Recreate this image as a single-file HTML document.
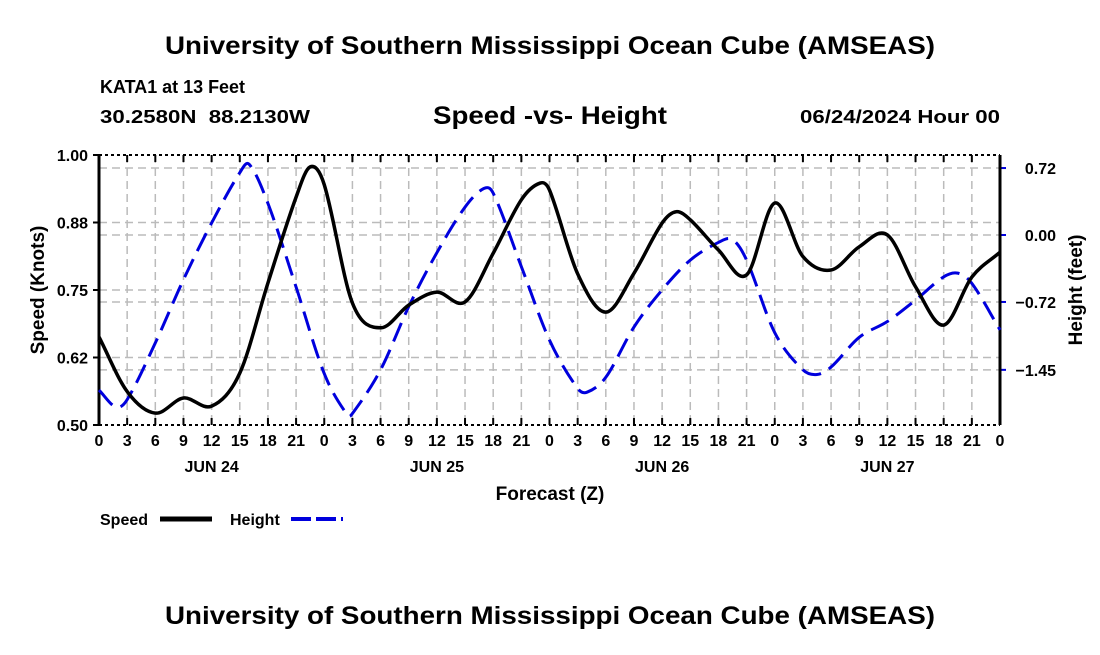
<!DOCTYPE html>
<html><head><meta charset="utf-8"><style>
body{margin:0;background:#fff;width:1100px;height:650px;overflow:hidden}
svg text{font-family:"Liberation Sans",sans-serif;font-weight:bold;fill:#000}
</style></head><body>
<svg id="chart" width="1100" height="650" xmlns="http://www.w3.org/2000/svg">
<text x="165" y="54" font-size="25" textLength="770" lengthAdjust="spacingAndGlyphs">University of Southern Mississippi Ocean Cube (AMSEAS)</text>
<text x="100" y="93" font-size="18" textLength="145" lengthAdjust="spacingAndGlyphs">KATA1 at 13 Feet</text>
<text x="100" y="123" font-size="18" xml:space="preserve" textLength="210" lengthAdjust="spacingAndGlyphs">30.2580N  88.2130W</text>
<text x="433" y="124" font-size="25" textLength="234" lengthAdjust="spacingAndGlyphs">Speed -vs- Height</text>
<text x="800" y="123" font-size="18" textLength="200" lengthAdjust="spacingAndGlyphs">06/24/2024 Hour 00</text>
<g id="grid"></g>
<g id="axes"></g>
<g id="series"></g>
<text x="0" y="0" font-size="19" text-anchor="middle" transform="translate(44,290) rotate(-90)">Speed (Knots)</text>
<text x="0" y="0" font-size="19" text-anchor="middle" transform="translate(1082,290) rotate(-90)">Height (feet)</text>
<text x="550" y="500" font-size="19" text-anchor="middle">Forecast (Z)</text>
<g>
<text x="100" y="525" font-size="16">Speed</text>
<line x1="160" y1="519" x2="212" y2="519" stroke="#000" stroke-width="5"/>
<text x="230" y="525" font-size="16">Height</text>
<line x1="291" y1="519" x2="343" y2="519" stroke="#0000dd" stroke-width="4" stroke-dasharray="20,5"/>
</g>
<text x="165" y="624" font-size="25" textLength="770" lengthAdjust="spacingAndGlyphs">University of Southern Mississippi Ocean Cube (AMSEAS)</text>
</svg>
<script>
const speedHours=[0,3,6,9,12,15,18,21,22.5,24,27,30,33,36,39,42,45,47,48,51,54,57,60,61.5,63,66,69,72,75,78,81,84,87,90,93,96];
const speed=[0.663,0.562,0.522,0.55,0.535,0.596,0.763,0.922,0.978,0.945,0.726,0.68,0.722,0.746,0.728,0.818,0.917,0.948,0.935,0.78,0.709,0.781,0.874,0.895,0.88,0.824,0.778,0.911,0.812,0.787,0.83,0.852,0.756,0.685,0.774,0.82];
const heightHours=[0,1.8,3,6,9,12,15,16,18,21,24,26.5,27,30,33,36,39,41,42,45,48,51,52,54,57,60,63,66,67.5,69,72,75,76.5,78,81,84,87,90,91.5,93,96];
const height=[-1.667,-1.85,-1.77,-1.16,-0.48,0.13,0.67,0.76,0.34,-0.56,-1.49,-1.94,-1.92,-1.45,-0.77,-0.19,0.30,0.50,0.45,-0.34,-1.13,-1.65,-1.69,-1.53,-0.99,-0.59,-0.27,-0.08,-0.05,-0.27,-1.05,-1.45,-1.5,-1.42,-1.10,-0.93,-0.70,-0.45,-0.41,-0.52,-1.02];
const speedTicks=[0.5,0.625,0.75,0.875,1.0];
const speedTickLabels=["0.50","0.62","0.75","0.88","1.00"];
const heightTicks=[0.72,0,-0.72,-1.45];
const heightTickLabels=["0.72","0.00","\u22120.72","\u22121.45"];
const hourLabels=["0","3","6","9","12","15","18","21"];
const dayLabels=["JUN 24","JUN 25","JUN 26","JUN 27"];
const L=99,R=1000,T=155,B=425;
const xs=h=>L+h*(R-L)/96;
const ys=v=>B-(v-0.5)/0.5*(B-T);
const yh=v=>235-v*93;
const NS="http://www.w3.org/2000/svg";
function mk(tag,attrs,parent){const e=document.createElementNS(NS,tag);for(const k in attrs)e.setAttribute(k,attrs[k]);parent.appendChild(e);return e;}
const grid=document.getElementById('grid'),axes=document.getElementById('axes'),series=document.getElementById('series');
for(let h=3;h<96;h+=3){const l=mk('line',{x1:xs(h),x2:xs(h),y1:T,y2:B,stroke:'#bbb','stroke-width':1.5,'stroke-dasharray':'8,5'},grid);

}
speedTicks.forEach((v,i)=>{if(i>0&&i<4){const l=mk('line',{x1:L,x2:R,y1:ys(v),y2:ys(v),stroke:'#bbb','stroke-width':1.5,'stroke-dasharray':'8,5'},grid);

}
const t=mk('text',{x:L-11,y:ys(v)+6,'font-size':16,'text-anchor':'end'},axes);t.textContent=speedTickLabels[i];


mk('line',{x1:L-6,x2:L,y1:ys(v),y2:ys(v),stroke:'#000','stroke-width':2},axes);});
heightTicks.forEach((v,i)=>{const l=mk('line',{x1:L,x2:R,y1:yh(v),y2:yh(v),stroke:'#bbb','stroke-width':1.5,'stroke-dasharray':'8,5'},grid);


mk('line',{x1:R,x2:R+6,y1:yh(v),y2:yh(v),stroke:'#0000dd','stroke-width':2},axes);
const t=mk('text',{x:1056,y:yh(v)+6,'font-size':16,'text-anchor':'end'},axes);t.textContent=heightTickLabels[i];

});
for(let h=0;h<=96;h+=3){const t=mk('text',{x:xs(h),y:446,'font-size':16,'text-anchor':'middle'},axes);t.textContent=hourLabels[(h/3)%8];


mk('line',{x1:xs(h),x2:xs(h),y1:B,y2:B-7,stroke:'#000','stroke-width':2},axes);
mk('line',{x1:xs(h),x2:xs(h),y1:T,y2:T+7,stroke:'#000','stroke-width':2},axes);}
dayLabels.forEach((d,i)=>{const t=mk('text',{x:xs(12+24*i),y:472,'font-size':16,'text-anchor':'middle'},axes);t.textContent=d;

});
mk('line',{x1:L,x2:R,y1:T,y2:T,stroke:'#000','stroke-width':2,'stroke-dasharray':'3,3'},axes);
mk('line',{x1:L,x2:R,y1:B,y2:B,stroke:'#000','stroke-width':2,'stroke-dasharray':'3,3'},axes);
mk('line',{x1:L,x2:L,y1:T,y2:B,stroke:'#000','stroke-width':3},axes);
mk('line',{x1:R,x2:R,y1:T,y2:B,stroke:'#000','stroke-width':3},axes);
// cardinal spline in x (non-uniform aware)
function smooth(pts){let d=`M${pts[0][0]},${pts[0][1]}`;const n=pts.length;
const slope=i=>{const a=pts[Math.max(0,i-1)],b=pts[Math.min(n-1,i+1)];return (b[1]-a[1])/(b[0]-a[0]);};
for(let i=0;i<n-1;i++){const p1=pts[i],p2=pts[i+1],dx=(p2[0]-p1[0])/3,m1=slope(i),m2=slope(i+1);
d+=` C${p1[0]+dx},${p1[1]+m1*dx} ${p2[0]-dx},${p2[1]-m2*dx} ${p2[0]},${p2[1]}`;}return d;}
const hp=mk('path',{d:smooth(heightHours.map((h,i)=>[xs(h),yh(height[i])])),fill:'none',stroke:'#0000dd','stroke-width':3,'stroke-dasharray':'20,9'},series);


const sp=mk('path',{d:smooth(speedHours.map((h,i)=>[xs(h),ys(speed[i])])),fill:'none',stroke:'#000','stroke-width':3.5},series);


</script>
</body></html>
